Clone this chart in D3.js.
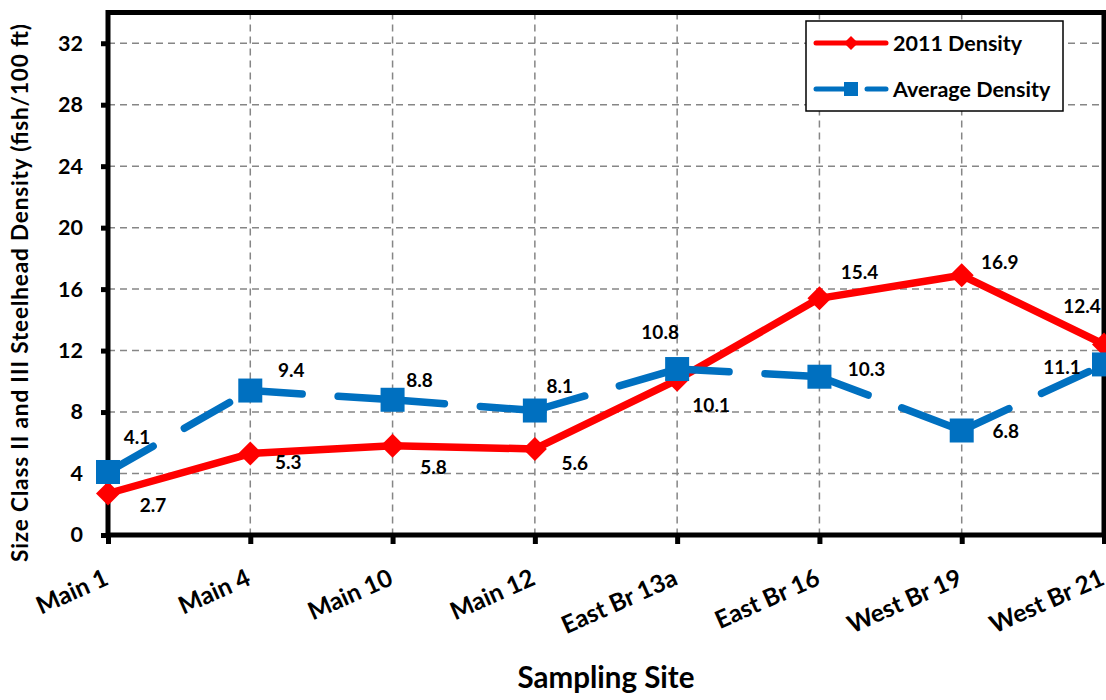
<!DOCTYPE html>
<html>
<head>
<meta charset="utf-8">
<script src="https://cdn.jsdelivr.net/npm/d3@7/dist/d3.min.js"></script>
<style>
  html, body { margin: 0; padding: 0; background: #fff; }
  svg { display: block; }
  text { font-family: Lato, "Open Sans", sans-serif; font-weight: 700; fill: #000; }
</style>
</head>
<body>
<svg id="chart" width="1106" height="700"></svg>
<script>
// Steelhead density by sampling site
const sites = ["Main 1", "Main 4", "Main 10", "Main 12", "East Br 13a", "East Br 16", "West Br 19", "West Br 21"];
const density2011 = [2.7, 5.3, 5.8, 5.6, 10.1, 15.4, 16.9, 12.4];
const densityAvg = [4.1, 9.4, 8.8, 8.1, 10.8, 10.3, 6.8, 11.1];
const yTicks = [0, 4, 8, 12, 16, 20, 24, 28, 32];
const seriesNames = ["2011 Density", "Average Density"];

// value-label placement relative to each point (dx, dy)
const offsets2011 = [[45, 12], [38, 9], [41, 21], [40, 14], [34, 25], [40, -26], [38, -13], [-22, -38]];
const offsetsAvg = [[29, -35], [41, -20], [27, -20], [25, -24], [-17, -37], [47, -8], [44, 1], [-42, 3]];

const RED = "#ff0000";
const BLUE = "#0070c0";

const svg = d3.select("#chart");
const plot = { left: 108, right: 1104, top: 12.5, bottom: 535 };

const x = d3.scalePoint().domain(sites).range([plot.left, plot.right]);
const y = d3.scaleLinear().domain([0, 34]).range([plot.bottom, plot.top]);

// gridlines
const grid = svg.append("g");
grid.selectAll("line.h").data(yTicks.filter(d => d > 0)).enter().append("line")
  .attr("x1", plot.left).attr("x2", plot.right)
  .attr("y1", d => y(d)).attr("y2", d => y(d))
  .attr("stroke", "#868686").attr("stroke-width", 1.5).attr("stroke-dasharray", "7,5");
grid.selectAll("line.v").data(sites.slice(1, -1)).enter().append("line")
  .attr("x1", d => x(d)).attr("x2", d => x(d))
  .attr("y1", plot.top).attr("y2", plot.bottom)
  .attr("stroke", "#868686").attr("stroke-width", 1.5).attr("stroke-dasharray", "7,5");

// y axis
const yAxis = d3.axisLeft(y).tickValues(yTicks).tickSize(7).tickPadding(18);
const gy = svg.append("g").attr("transform", `translate(${plot.left},0)`).call(yAxis);
gy.select(".domain").remove();
gy.selectAll(".tick line").attr("stroke", "#000").attr("stroke-width", 5);
gy.selectAll(".tick text").attr("font-size", 21.5).attr("font-family", "Lato").attr("font-weight", 700);

// x axis
const xAxis = d3.axisBottom(x).tickSize(9).tickFormat("");
const gx = svg.append("g").attr("transform", `translate(0,${plot.bottom})`).call(xAxis);
gx.select(".domain").remove();
gx.selectAll(".tick line").attr("stroke", "#000").attr("stroke-width", 5);

svg.append("g").selectAll("text").data(sites).enter().append("text")
  .attr("transform", d => `translate(${x(d) + 2},${584}) rotate(-24)`)
  .attr("text-anchor", "end")
  .attr("font-size", 24.5)
  .text(d => d);

// plot frame
svg.append("rect")
  .attr("x", plot.left).attr("y", plot.top)
  .attr("width", plot.right - plot.left).attr("height", plot.bottom - plot.top)
  .attr("fill", "none").attr("stroke", "#000").attr("stroke-width", 5);

// axis titles
svg.append("text")
  .attr("x", (plot.left + plot.right) / 2).attr("y", 688)
  .attr("text-anchor", "middle").attr("font-size", 29.5)
  .text("Sampling Site");
svg.append("text")
  .attr("transform", "translate(28,293) rotate(-90)")
  .attr("text-anchor", "middle").attr("font-size", 22.5)
  .attr("textLength", 538).attr("lengthAdjust", "spacing")
  .text("Size Class II and III Steelhead Density (fish/100 ft)");

const diamond = (r) => `M0,${-r}L${r},0L0,${r}L${-r},0Z`;

// 2011 series: solid red line with diamonds
const line = d3.line().x((d, i) => x(sites[i])).y(d => y(d));
svg.append("path").datum(density2011)
  .attr("d", line).attr("fill", "none")
  .attr("stroke", RED).attr("stroke-width", 7.5).attr("stroke-linejoin", "round");
svg.append("g").selectAll("path").data(density2011).enter().append("path")
  .attr("transform", (d, i) => `translate(${x(sites[i])},${y(d)})`)
  .attr("d", diamond(12)).attr("fill", RED);

// average series: long-dash blue line, pattern restarting at each point
const segs = d3.pairs(densityAvg.map((v, i) => [x(sites[i]), y(v)]));
svg.append("g").selectAll("line").data(segs).enter().append("line")
  .attr("x1", d => d[0][0]).attr("y1", d => d[0][1])
  .attr("x2", d => d[1][0]).attr("y2", d => d[1][1])
  .attr("stroke", BLUE).attr("stroke-width", 7.5)
  .attr("stroke-linecap", "round").attr("stroke-dasharray", "52,36");
svg.append("g").selectAll("rect").data(densityAvg).enter().append("rect")
  .attr("x", (d, i) => x(sites[i]) - 12).attr("y", d => y(d) - 12)
  .attr("width", 24).attr("height", 24).attr("fill", BLUE);

// value labels
const labels = svg.append("g").attr("font-size", 19).attr("text-anchor", "middle");
density2011.forEach((v, i) => {
  labels.append("text")
    .attr("x", x(sites[i]) + offsets2011[i][0]).attr("y", y(v) + offsets2011[i][1])
    .attr("dy", "0.36em").text(v.toFixed(1));
});
densityAvg.forEach((v, i) => {
  labels.append("text")
    .attr("x", x(sites[i]) + offsetsAvg[i][0]).attr("y", y(v) + offsetsAvg[i][1])
    .attr("dy", "0.36em").text(v.toFixed(1));
});

// legend
const lg = svg.append("g");
lg.append("rect").attr("x", 806).attr("y", 21).attr("width", 257).attr("height", 90)
  .attr("fill", "#fff").attr("stroke", "#000").attr("stroke-width", 1.5);
lg.append("line").attr("x1", 816).attr("x2", 886).attr("y1", 43).attr("y2", 43)
  .attr("stroke", RED).attr("stroke-width", 5).attr("stroke-linecap", "round");
lg.append("path").attr("transform", "translate(851,43)").attr("d", diamond(7)).attr("fill", RED);
lg.append("text").attr("x", 893).attr("y", 43).attr("dy", "0.36em").attr("font-size", 21.5).text(seriesNames[0]);
lg.append("line").attr("x1", 816).attr("x2", 846).attr("y1", 89).attr("y2", 89)
  .attr("stroke", BLUE).attr("stroke-width", 5).attr("stroke-linecap", "round");
lg.append("line").attr("x1", 867).attr("x2", 886).attr("y1", 89).attr("y2", 89)
  .attr("stroke", BLUE).attr("stroke-width", 5).attr("stroke-linecap", "round");
lg.append("rect").attr("x", 844).attr("y", 82).attr("width", 14).attr("height", 14).attr("fill", BLUE);
lg.append("text").attr("x", 893).attr("y", 89).attr("dy", "0.36em").attr("font-size", 21.5).text(seriesNames[1]);
</script>
</body>
</html>
